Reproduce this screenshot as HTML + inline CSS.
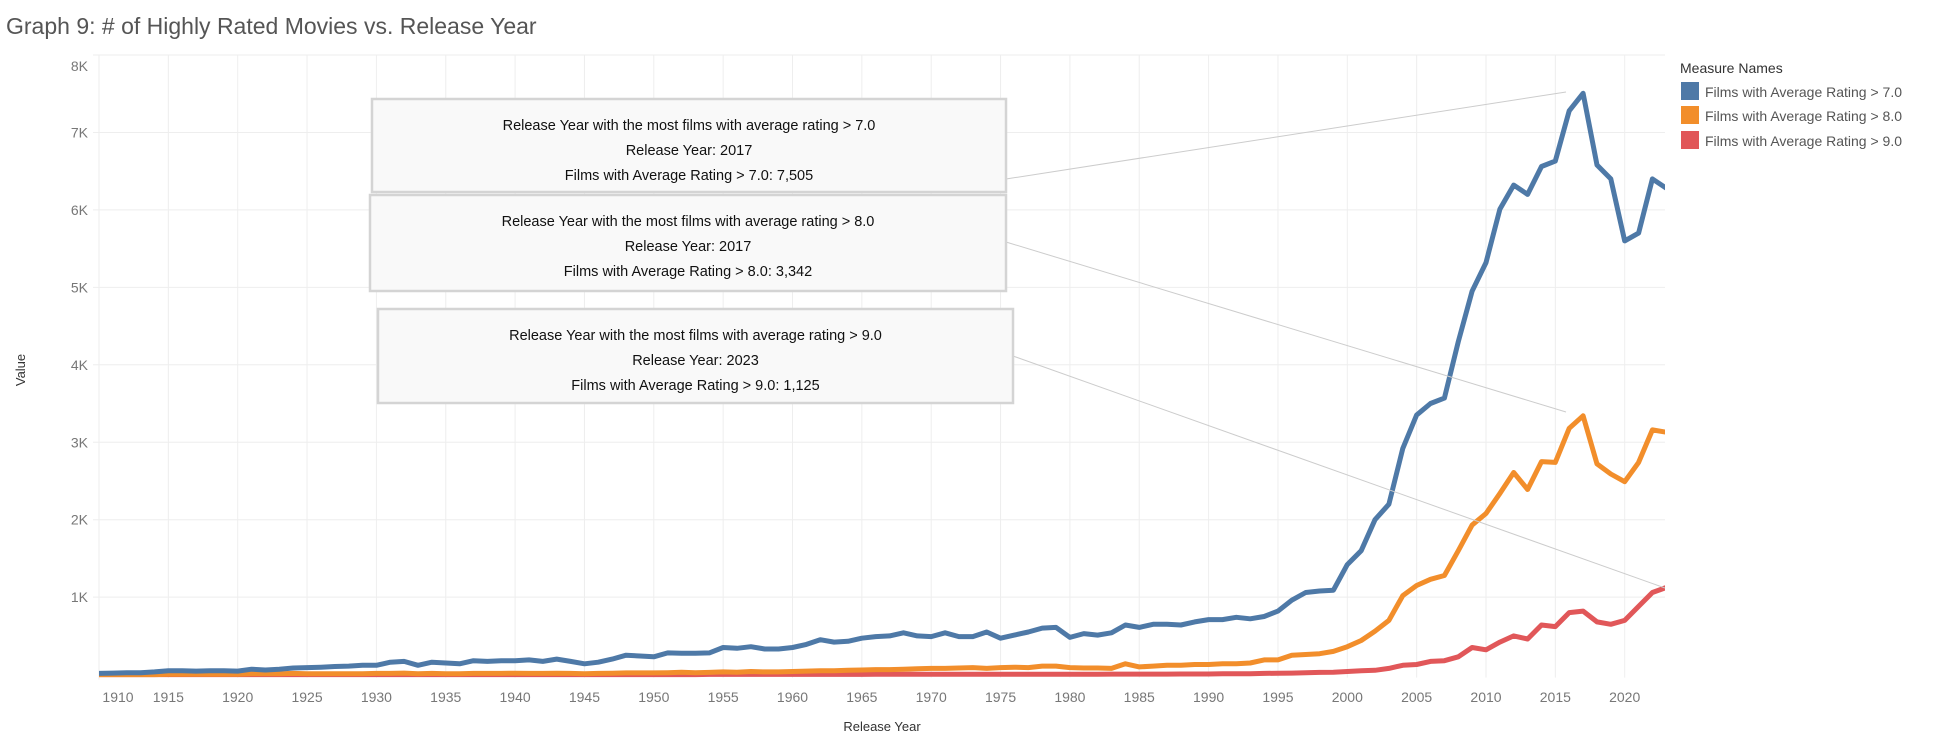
<!DOCTYPE html>
<html><head><meta charset="utf-8"><style>
body{margin:0;background:#fff;width:1934px;height:746px;overflow:hidden;font-family:"Liberation Sans",sans-serif}
svg text{font-family:"Liberation Sans",sans-serif}
</style></head><body>
<svg id="chart" width="1934" height="746" viewBox="0 0 1934 746" xmlns="http://www.w3.org/2000/svg">
<defs><clipPath id="plotclip"><rect x="99" y="50" width="1566" height="640"/></clipPath></defs>
<text x="6" y="34" font-size="23" fill="#555">Graph 9: # of Highly Rated Movies vs. Release Year</text>
<g id="grid"></g>
<g id="series" clip-path="url(#plotclip)"></g>
<g id="annotations"></g>
<text transform="translate(25,370) rotate(-90)" text-anchor="middle" font-size="13" fill="#333">Value</text>
<text x="882" y="731" text-anchor="middle" font-size="13" fill="#333">Release Year</text>
<g>
<text x="1680" y="73" font-size="14" fill="#333">Measure Names</text>
<rect x="1681" y="82" width="18" height="18" fill="#4e79a7"/>
<text x="1705" y="97" font-size="14" fill="#555">Films with Average Rating &gt; 7.0</text>
<rect x="1681" y="106" width="18" height="18" fill="#f28e2b"/>
<text x="1705" y="121" font-size="14" fill="#555">Films with Average Rating &gt; 8.0</text>
<rect x="1681" y="131" width="18" height="18" fill="#e15759"/>
<text x="1705" y="146" font-size="14" fill="#555">Films with Average Rating &gt; 9.0</text>
</g>
</svg>
<script>
const startYear = 1910;
const yTicks = [1000,2000,3000,4000,5000,6000,7000,8000];
const yTickLabels = ["1K","2K","3K","4K","5K","6K","7K","8K"];
const xTicks = [1910,1915,1920,1925,1930,1935,1940,1945,1950,1955,1960,1965,1970,1975,1980,1985,1990,1995,2000,2005,2010,2015,2020];
const rating7 = [15,20,25,25,35,50,50,45,50,50,45,70,60,70,85,90,95,105,110,120,120,160,170,120,160,150,140,180,170,180,180,190,170,200,170,140,160,200,250,240,230,280,275,275,280,350,340,360,330,330,350,390,450,420,430,470,490,500,540,500,490,540,490,490,550,470,510,550,600,610,480,530,510,540,640,610,650,650,640,680,710,710,740,720,750,820,960,1060,1080,1090,1420,1600,2000,2200,2920,3350,3500,3570,4300,4950,5320,6010,6320,6200,6560,6630,7280,7505,6580,6400,5600,5700,6400,6280];
const rating8 = [0,0,0,0,0,5,5,5,5,5,5,10,10,10,15,10,10,10,10,12,15,15,20,12,15,12,12,15,15,15,18,15,15,18,15,12,15,18,22,22,22,25,30,25,28,35,30,40,35,35,40,45,50,50,55,60,65,65,70,75,80,80,85,90,80,90,95,90,110,110,90,85,85,80,140,100,110,120,120,130,130,140,140,150,190,190,250,260,270,300,360,440,560,700,1020,1150,1230,1280,1600,1930,2080,2340,2610,2390,2750,2740,3180,3342,2720,2590,2490,2740,3160,3130];
const rating9 = [0,0,0,0,0,0,0,0,0,0,0,0,0,0,0,0,0,0,0,0,0,0,0,0,0,0,0,0,0,0,0,0,0,0,0,0,0,0,0,0,0,0,0,0,2,2,2,2,2,2,3,3,3,3,3,3,4,4,4,4,4,4,5,5,5,5,5,5,5,5,5,5,5,6,6,6,7,7,8,8,8,10,10,12,15,18,20,25,28,30,40,50,55,80,120,130,170,180,230,350,320,420,500,460,640,620,800,820,680,650,700,880,1060,1125];

const NS="http://www.w3.org/2000/svg";
const L=99,R=1665,T=55,B=674.6;
function xs(yr){return L+(yr-1910)*13.87;}
function ys(v){return B-v*(B-T)/8000;}
function el(tag,attrs,parent){const e=document.createElementNS(NS,tag);for(const k in attrs)e.setAttribute(k,attrs[k]);parent.appendChild(e);return e;}
const grid=document.getElementById('grid');
yTicks.forEach((v,i)=>{
  const ln=el('line',{x1:L-6,x2:R,y1:ys(v),y2:ys(v),stroke:'#eee','stroke-width':1},grid);
  
  
  const t=el('text',{x:88,y:ys(v)+(v===8000?16:5),'text-anchor':'end','font-size':14,fill:'#777'},grid);
  t.textContent=yTickLabels[i];
  
  
});
xTicks.forEach(yr=>{
  if(yr>1910){
    const ln=el('line',{x1:xs(yr),x2:xs(yr),y1:T,y2:B+3,stroke:'#eee','stroke-width':1},grid);
    
    
  }
  const t=el('text',{x:yr===1910?118:xs(yr),y:702,'text-anchor':'middle','font-size':14,fill:'#777'},grid);
  t.textContent=String(yr);
  
  
});
const ax=el('line',{x1:L,x2:L,y1:T,y2:B+5,stroke:'#eee'},grid);


const ser=document.getElementById('series');
[[rating7,'#4e79a7','series-rating-7'],[rating8,'#f28e2b','series-rating-8'],[rating9,'#e15759','series-rating-9']].reverse().forEach(([d,c,n])=>{
  const pts=d.map((v,i)=>xs(startYear+i).toFixed(1)+','+ys(v).toFixed(1)).join(' ');
  const p=el('polyline',{points:pts,fill:'none',stroke:c,'stroke-width':5,'stroke-linejoin':'round'},ser);
  
  
});
const ann=document.getElementById('annotations');
const boxes=[
 {x:372,y:99,w:634,h:93,lx:1006,ly:179,tx:1566,ty:92,lines:["Release Year with the most films with average rating > 7.0","Release Year: 2017","Films with Average Rating > 7.0: 7,505"]},
 {x:370,y:195,w:636,h:96,lx:1006,ly:242,tx:1566,ty:412,lines:["Release Year with the most films with average rating > 8.0","Release Year: 2017","Films with Average Rating > 8.0: 3,342"]},
 {x:378,y:309,w:635,h:94,lx:1013,ly:356,tx:1665,ty:588,lines:["Release Year with the most films with average rating > 9.0","Release Year: 2023","Films with Average Rating > 9.0: 1,125"]}
];
boxes.forEach((b,i)=>{
  const g=el('g',{},ann);
  
  
  el('line',{x1:b.lx,y1:b.ly,x2:b.tx,y2:b.ty,stroke:'#ccc','stroke-width':1},g);
  el('rect',{x:b.x,y:b.y,width:b.w,height:b.h,fill:'#f9f9f9',stroke:'#d4d4d4','stroke-width':2.5},g);
  b.lines.forEach((s,j)=>{
    const t=el('text',{x:b.x+b.w/2,y:b.y+31+j*25,'text-anchor':'middle','font-size':14.5,fill:'#111'},g);
    t.textContent=s;
  });
});
</script>
</body></html>
